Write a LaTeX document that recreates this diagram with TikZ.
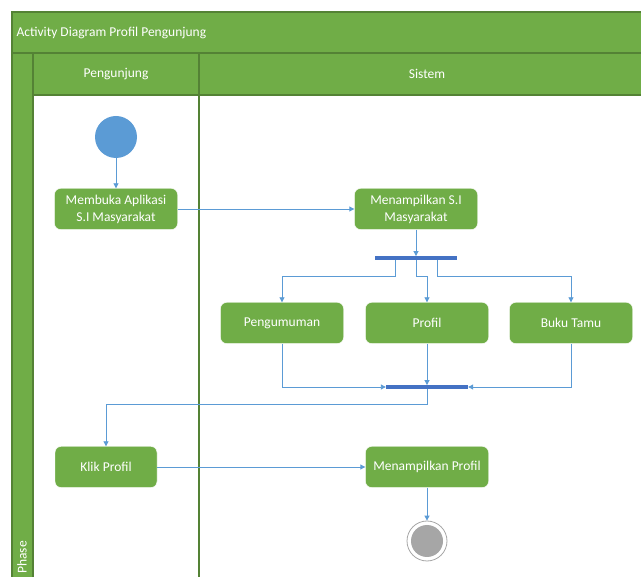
\documentclass[tikz,border=0pt]{standalone}
\usepackage{fontspec}
\setmainfont{Carlito}
\usetikzlibrary{arrows.meta,positioning,shapes}
\definecolor{lanegreen}{RGB}{112,173,71}
\definecolor{laneline}{RGB}{84,130,53}
\definecolor{flowblue}{RGB}{91,155,213}
\definecolor{barblue}{RGB}{68,114,196}
\tikzset{>={Triangle[length=5pt,width=5pt]}}
\tikzset{act/.style={rectangle,rounded corners=6pt,fill=lanegreen,draw=white,text=white,
        minimum width=123pt,minimum height=41pt,align=center,font=\fontsize{13.5}{17}\selectfont}}
\tikzset{bar/.style={rectangle,fill=barblue,inner sep=0pt,minimum width=82pt,minimum height=3.5pt}}
\tikzset{flow/.style={->,draw=flowblue,line width=0.9pt}}
\tikzset{lanetext/.style={text=white,font=\fontsize{13.5}{16}\selectfont}}

\begin{document}
\begin{tikzpicture}[x=1pt,y=-1pt]
                \clip (0,0) rectangle (641,577);
                \fill[white] (0,0) rectangle (641,577);
                % swimlane frame
                \fill[lanegreen] (12,12) rectangle (645,95);
                \fill[lanegreen] (12,12) rectangle (33,590);
                \draw[laneline,line width=1.2pt] (12,590) -- (12,12) -- (645,12);
                \draw[laneline,line width=1.2pt] (12,53) -- (645,53);
                \draw[laneline,line width=1.2pt] (33,53) -- (33,590);
                \draw[laneline,line width=1.2pt] (33,95) -- (645,95);
                \draw[laneline,line width=1.2pt] (199,53) -- (199,590);
                \node[anchor=west,lanetext] (title) at (13,33) {Activity Diagram Profil Pengunjung};
                \node[lanetext] (lane1) at (116,74) {Pengunjung};
                \node[lanetext] (lane2) at (427,74) {Sistem};
                \node[anchor=west,rotate=90,lanetext,inner sep=1pt] (phase) at (22,575) {Phase};
                % nodes
                \node[circle,fill=flowblue,minimum size=42pt,inner sep=0pt] (start) at (116,137) {};
                \node[act] (buka) at (116,209) {Membuka Aplikasi\\S.I Masyarakat};
                \node[act] (tampil) at (416,209) {Menampilkan S.I\\Masyarakat};
                \node[bar] (fork) at (416,258) {};
                \node[act] (umum) at (282,323) {Pengumuman};
                \node[act] (profil) at (427,323) {Profil};
                \node[act] (tamu) at (571,323) {Buku Tamu};
                \node[bar] (join) at (427,387) {};
                \node[act,minimum width=102pt] (klik) at (106,467) {Klik Profil};
                \node[act] (hasil) at (427,467) {Menampilkan Profil};
                \node[circle,draw=black!35,fill=white,line width=0.8pt,minimum size=40pt,inner sep=0pt] (stop) at (427,541) {};
                \node[circle,fill=black!35,minimum size=32pt,inner sep=0pt] at (stop) {};
                % flows
                \draw[flow] (start) -- (buka);
                \draw[flow] (buka) -- (tampil);
                \draw[flow] (tampil) -- (fork);
                \draw[flow] ([xshift=-21pt]fork.south) -- ++(0,17) -| (umum.north);
                \draw[flow] (fork.south) -- ++(0,17) -| (profil.north);
                \draw[flow] ([xshift=21pt]fork.south) -- ++(0,17) -| (tamu.north);
                \draw[flow] (umum.south) |- (join.west);
                \draw[flow] (profil.south) -- (join.north);
                \draw[flow] (tamu.south) |- (join.east);
                \draw[flow] (join.south) -- ++(0,16) -| (klik.north);
                \draw[flow] (klik) -- (hasil);
                \draw[flow] (hasil) -- (stop);
            \end{tikzpicture}
\end{document}
